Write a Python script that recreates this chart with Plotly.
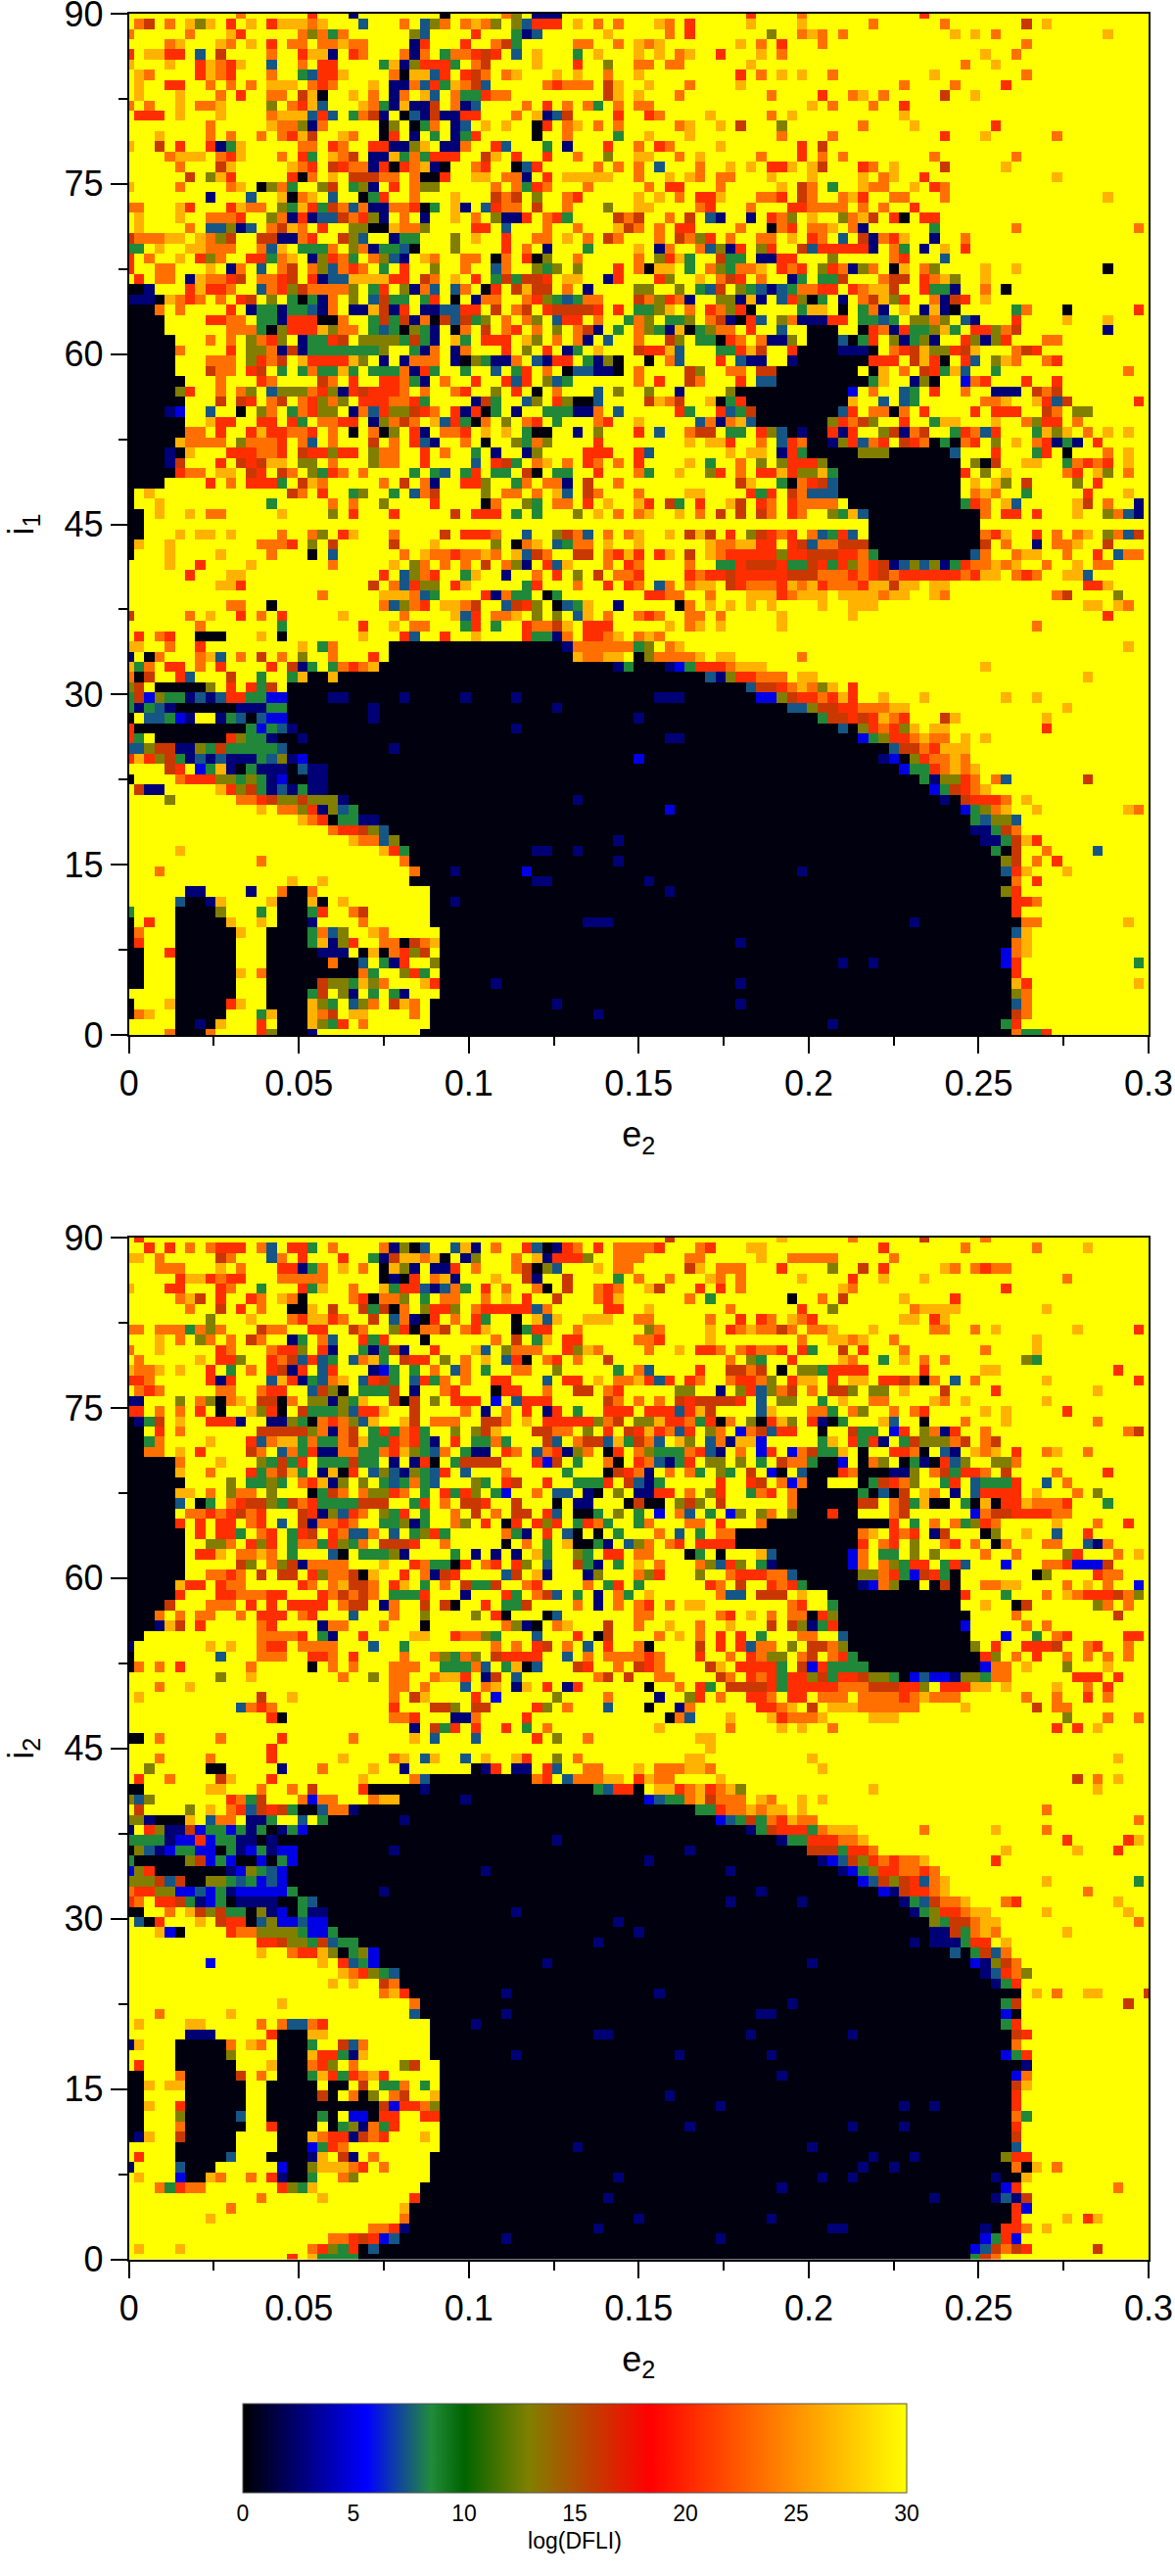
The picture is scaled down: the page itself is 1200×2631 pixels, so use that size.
import re
import plotly.graph_objects as go

# Values. Each row lists the cells that are not the yellow
# background: "<column>[-<column>]<level letter>", later entries overwrite earlier ones.
LEVELS = {"K": 0.3, "n": 2.6, "b": 5.0, "t": 7.4, "g": 8.6, "o": 13.0,
          "s": 16.0, "r": 20.5, "a": 23.5, "m": 26.5}
BACKGROUND = 30.0

P1_TL = [
"11a 18r 22n 31K 37a 38o 40-42n",
"1a 2s 4a 6m 7o 8m 10r 12m 14r 15-17m 18a 19m 23t 27a 29t 30o 31a 33a 34m 35a 36o 38o 39t 40-42r 44m 46a 48a",
"0a 6a 10m 11r 17a 18o 19a 20g 21a 28o 29t 34r 38g 39n 40t 47m",
"4a 5m 9m 10a 12m 14r 16a 17a 19a 20a 21m 22-23a 28n 29r 33r 36a 37s 38g 44-45a 48a",
"0r 2m 3m 4-5r 7t 9s 14a 17r 18m 19m 20n 22r 23a 27a 28n 29a 31g 32a 33a 34r 35s 36r 38t 40m 44g 46m",
"0m 4m 7r 8m 9a 10r 11m 14t 17a 19r 20r 25g 26m 27n 28o 29-31r 32g 34a 35s 40m 44r 47o",
"1m 2a 7r 8m 9a 10r 14a 17g 18t 19-20r 21m 26a 27K 28m 29m 30t 31r 33r 34s 35a 37a 38m 42m 44m 47a",
"1m 4r 5r 8a 10a 12a 14m 15m 16m 18a 19r 20a 24m 26-27n 28a 29t 30r 31g 32m 33a 34s 35t 41a 42r 43-45a 47s 48m",
"1m 5m 9a 11r 14a 15a 17s 18m 19K 22m 24a 26n 27a 29m 30t 32a 33g 34g 35r 36a 37a 47s 48m",
"0a 2a 5m 7a 8a 9m 14o 16a 17r 18m 19t 23m 24a 25g 26n 27m 28-29n 30s 32a 33n 34t 39a 41r 43a 45a 46g 48a",
"1-3r 5m 9m 14a 15-16m 17m 18t 19r 20t 22g 23a 24s 25n 27K 28t 29n 30s 31-32n 33-34r 38a 40m 41n 42t 43s 48r",
"8a 14m 15a 16a 17o 18n 19a 25K 26o 28K 29g 30a 32n 33t 35m 37m 40K 41r 43a 44m 46a 48a",
"3m 8a 10a 13a 15a 16r 17m 18s 21m 22a 25K 26r 28n 30g 32n 33g 34r 40K 43a 48g",
"0m 3s 5r 8r 9n 10g 11m 17a 18a 20r 21a 24r 25r 26-27n 28o 29m 31n 32n 33a 36r 37t 41g 43n 47r",
"4a 5m 6-7m 9a 10r 11m 15a 17r 18g 20m 21a 22s 24-25n 26m 27g 28a 29g 30-32r 35s 36m 38r 41r 44a 47o",
"5a 9s 10m 16m 17a 18r 20s 21r 22a 23a 24n 25r 26K 27r 28a 29m 30n 31K 34a 35r 38K 39t 40r 46a 48a",
"6s 8o 9m 10r 16r 17K 18a 20m 22s 23s 24s 25a 26a 28a 29K 30K 31r 34m 35m 37a 38a 39n 41r 43-47m",
"0m 5a 10a 11m 13K 14o 15a 16g 19o 20s 22g 23o 24n 26r 28a 29o 30o 36a 38a 39g 40r 41a 45a",
"8n 12t 15m 16K 17a 18m 20t 23K 24g 25r 28a 32m 36s 37a 38s 40o 43a 44r",
"0-1a 5m 6r 10r 11m 12-13a 15o 16g 17m 18r 19g 20s 21a 22t 23a 24n 25n 26-27a 28r 29K 30g 32m 33n 35t 36r 37a 38a 40s 43a 47o",
"1m 5m 8-10a 11r 14o 15a 16n 17r 18n 19-20t 21s 22a 23r 24o 25n 27a 29n 32m 34a 36o 37-38n 39r 41a 42r 43g 48s 49a",
"1m 6a 8-9t 10o 11n 12t 14a 15s 16m 17a 19r 22-23o 24-25K 26m 27-28a 29o 34-35r 37t 41a 44a 48m 49s",
"0s 1a 2a 3a 4-5m 7m 8a 9o 10s 13-14s 15-16n 17a 18r 21s 22o 23t 26n 27-28g 32o 34m 37r 40a 41a 43m 45a 47s 48a",
"0-1g 3m 6-7m 8a 9-10a 13a 14t 15m 17-19g 20a 22o 23a 24n 25-26g 27t 28K 32o 37r 39a 41n 45g",
"0r 2a 5m 7r 8o 9a 12-13r 14g 15a 16m 18n 19o 20r 21a 22g 24a 25o 26t 27n 29m 30a 33a 34a 36K 37a 39r 40K 41o 44a",
"0r 3-4a 8m 10n 11a 13t 15a 16s 18a 19o 20t 21a 22r 23a 25g 27r 30o 33a 36t 37a 40o 41g 42o 44o 48r",
"1r 3-4a 6n 7m 8-9a 10r 11s 13a 14a 15r 16s 18r 19n 20-21t 22-25m 26-27r 29s 30a 32m 34r 36g 37s 38g 39-40s 41r 43-44m 47n 48r",
"0-1K 2n 6r 7m 8-9r 10a 13t 14a 15r 16o 17s 18a 19-21a 22o 24g 25r 27o 28n 29a 30t 32t 33a 35K 36r 38s 39m 40s 41s 43a 45n",
"0-2n 3K 4m 5a 6r 7a 9a 11r 12s 14o 16g 17K 18g 19n 20a 22o 24t 25s 26-27g 29g 30r 32K 34n 35a 36a 39a 40r 41o 42g 43t 44g 45a 46a",
"0-2K 3a 5a 10r 12n 13-14g 15n 16-17g 18t 19n 20a 22n 23n 24m 25s 26n 27r 29-30n 31t 32t 33-34r 36s 38a 39s 41r 42s 43-45s 46r 48r",
"0-3K 8-9r 10a 11a 13-14g 15n 16-18r 19K 20K 21a 24g 25s 26g 27s 28n 29a 30K 31s 32t 33s 34g 35o 37a 39a 40o 42t 43r 44r 46a 49g",
"0-3K 10a 11a 12a 13g 14K 15o 16-18r 19m 20o 21-22a 24g 25t 26g 27K 28o 29g 30n 32K 33a 35s 37a 38r 40a 42o 44a 45s 46n 48g",
"0-4K 8a 10a 12o 13a 14r 15o 17n 18-19g 20r 21s 23-25o 26o 27g 28s 29g 30n 32m 33g 35-37r 39m 40o 42a 44a 45n 47t",
"0-4K 5a 10r 12-13o 14a 15n 16s 17n 18-24g 25o 28g 29n 30a 32n 33a 37r 39o 41r 43n 44g 46m",
"0-4K 8a 9-10a 12o 13r 14a 15s 17m 18-21r 22m 23o 25n 27n 28-30a 32n 33K 34o 35g 36-37n 38a 40t 41n 42-43r 45g 46n 47o 48K",
"0-4K 8s 9-10a 12r 13s 15g 17g 18a 19-20g 21m 22g 24-26g 27a 28n 29r 30g 33g 36t 38g 39r 41a 43K 44-45t 46-47n 48K",
"0-5K 9a 13r 14a 19s 20a 22r 25-26r 27a 28g 29n 31a 34r 37r 38t 39r 41o 42t 43g",
"0-4K 5o 6r 9a 11a 12o 14t 15-17o 18a 19r 20o 21n 22r 23s 24-26r 27a 29a 32a 33r 36o 38r 40K 42a 46t 48o",
"0-5K 9s 11s 12r 14a 15s 17a 18r 19o 20a 21o 23-25r 26-27a 28r 29g 34n 35s 36g 39t 40o 42r 43o 44-45K 46t",
"0-3K 4n 5b 8t 11K 13o 14a 16g 17a 18r 19-20o 22n 23a 24t 25r 26-27o 28s 29r 30a 32r 33n 34r 35K 36g 38n 41-43g 44-45n 46a 48t",
"0-5K 8m 9-10r 13-14r 16r 17g 19a 20a 21-22r 24n 25o 26a 27s 28a 30m 31t 32r 33g 34K 35a 37o 39a 40r 42g 46a 47r",
"0-5K 6-7a 9r 12r 13m 14r 15r 16-17a 18r 20a 22K 24a 25K 26o 28r 29n 31-32a 33r 35m 37m 39g 40-41K 44n 46o",
"0-4K 5m 6-8a 9a 11o 12-13a 14a 15r 17a 18t 20a 24s 26a 28r 29t 30n 33a 35K 38o 39g 40a 41o 46r",
"0-3K 4n 5K 6m 10-12r 13a 14a 15r 17s 18-19r 20o 21-22r 24o 25-26a 29r 31a 34g 36n 39n 40o 45-47r",
"0-3K 4n 5s 9r 11s 12r 13s 14m 15m 17o 18o 20a 24o 25-26a 29r 34t 36r 37s 38g 40a 41m 43a 45r 46a 48a",
"0-4K 5r 6a 7a 9m 10m 12s 13r 15s 16a 18o 19g 20r 21a 23a 28g 30g 31t 33g 34r 36-37g 39s 40K 42-43g 46r",
"0-3K 8r 10a 12-14r 15g 17s 18m 19a 25a 27s 29a 30n 33-34r 35o 38g 39a 41a 42a 43n 45s 48a",
"0K 2m 16s 17a 19r 22g 23o 26g 28t 29a 30s 35o 37-38a 40a 42m 43t 45s 46a",
"0K 3m 14g 20a 22a 25o 30r 35K 36a 39o 40g 42-43a 45r 47m",
"0-1K 3m 6m 8-9a 15m 20o 22r 26r 32s 34-36r 38g 40g 44o 46m 48a",
]
P1_TR = [
"11r 16a 28r",
"2m 3a 5r 11m 16m 23a 30a 38s 40m",
"3a 5r 13o 16a 17m 18a 20a 31m 33m 35a 46m",
"0m 1a 2m 10m 12a 14r 18a 38a",
"0m 2m 4a 5m 8r 12m 14a 34m 37a",
"0a 1a 3-4a 11m 32a 35m",
"0m 10r 12a 14m 16m 19a 29m 38a",
"1m 5a 10m 26a 31a 36r",
"0m 4a 13a 18r 21a 22m 24a 30s 33m",
"0-1a 17m 19a 23a 26r",
"1r 2a 7m 13a 15m 26m",
"4a 5m 8m 10s 14o 22a 27m 35r",
"1m 5m 14a 19a 30r 34m 41a",
"0a 2r 3a 8m 16r 18s",
"0-1m 4a 6m 12a 16r 18a 20a 29a 37a",
"0a 2t 6a 9m 11m 13-14r 15m 17m 18s 22r 23a 25m 30s 36m",
"0a 3m 5m 6a 8-9a 13m 17m 22m 24a 25m 28r 41m",
"1a 3-4r 8a 14m 16s 17a 19g 22m 23-24a 27m 29r 30a",
"0m 2m 4a 6-7r 8m 12-13a 14r 16s 17a 20a 21m 22r 25-26a 30a 46m",
"0m 1m 6a 7r 11a 15-16r 17-19a 20a 22a 24a 27r",
"0s 3a 5s 7t 8n 11n 13r 14a 15o 17m 20o 21a 22m 23s 25r 26K 28-29r",
"0a 2a 4-5r 10a 13K 14a 15r 17-18a 19m 21a 22n 29g 37a 49a",
"2a 4s 5a 6o 7r 9a 12-13a 15m 17r 18a 20t 22s 23n 24a 25r 26m 29n 32a",
"0m 2n 3a 6a 7t 8o 9n 10r 12o 13r 16s 17t 18-22r 23n 25a 26g 28n 30m 32r",
"0a 2o 3r 4m 5g 8s 9-10g 12n 13n 14-15r 19o 25a 26r 30t",
"0a 1K 2-3m 5g 7a 8o 9g 10a 11a 12m 14r 15a 16r 18o 19r 20a 21n 22o 23a 25K 26m 28a 29o 34m 37m 46K",
"2r 3o 6m 8a 9s 10r 12a 15n 16g 18-19g 20s 24a 25-26s 28r 29a 30m 31o 34m",
"0-1o 4o 6g 7t 8s 10o 11g 12t 13n 14t 15g 16-17a 18-19r 21r 22a 23-24m 25s 28r 29-30g 31n 34a 36K",
"0s 1a 2o 3r 4a 5n 8-9o 10n 11m 12n 14t 15r 16o 17K 18g 20n 22a 23s 24m 25o 26r 29a 30n 31s 32r 34m",
"0-1g 2o 3m 5a 7r 8a 9o 10r 11K 16g 17-18m 20K 22g 23a 24n 26m 28n 29m 30n 31K 37g 38a 42K 49r",
"0a 1o 3-4g 5o 7a 8s 9n 10K 11r 12t 14o 15a 16-18n 19-20r 22-23g 24t 25g 27-28o 29a 30o 32t 33n 37r 42m 46m",
"0a 1o 2g 3n 4m 5K 6g 7o 8a 9a 11r 14t 17-19K 22K 23r 24a 25n 26r 27-28g 29o 30m 31g 33-34r 35o 36a 37s 46n",
"0a 3s 4o 6-7g 8K 9r 10a 12a 13-14n 15o 17-19K 20t 21K 22g 23r 25o 26n 27g 28o 29n 32r 33o 34n 35o 36r 40-41a",
"0s 1-2r 3m 4t 8-9g 10r 11m 12s 15r 16-19K 20-22n 23K 25a 26r 27s 28m 29-30o 31r 32s 33m 37a 38s 39r",
"1K 3a 4t 8r 10t 11-12n 15n 16-22K 23-25r 27s 28m 29r 30K 32r 33t 35o 36m 37a 40a 41r",
"0a 5s 6o 9-10a 12-13s 14-21K 23K 24m 26a 28s 29r 30g 31m 32t 35g 48a",
"0a 2r 5s 6a 10r 12-13t 14-22K 23g 24m 27n 28o 29K 32b 33a 34r 38r 41r",
"1o 4n 9o 10-20K 21b 23a 26t 27g 29r 32a 35-37n 39s 40a 41s",
"1s 2m 3a 4s 7m 8K 9g 10r 11-20K 21m 24t 26t 27g 34-35a 36m 39m 40r 41t 42s 49r",
"4r 5g 8r 9t 10g 11s 12-19K 20t 21r 23a 24a 25K 26a 28r 33r 35-37r 40s 41a 43-44o",
"0m 6t 7a 8n 9a 10m 11t 12-18K 19o 20r 21a 22s 23o 26r 29g 30-31m 35m 38a 39o 40-41r 43a",
"0r 2t 5a 6-7s 9-10g 12r 13o 14t 15K 16n 17-18K 19r 20n 21r 24o 25s 26n 27a 28s 31g 32r 33a 34t 35r 39g 40m 41o 42m 44a 46m 48m",
"5m 7-8m 9r 12a 14t 15r 16a 17-18K 19n 20o 21r 22t 23a 24r 26s 27r 28a 29K 30g 31K 32a 33r 35o 37m 39a 40r 41n 42g 43n 45r",
"0r 1t 9m 11-12m 14n 15r 16g 17-21K 22-24o 25-30K 31t 35r 39g 40r 42K 46a 48m",
"0r 5m 7g 10a 12o 14o 15-17r 18o 19-31K 33o 34K 35s 38-39m 42g 43a 44r 45a 46r 48m",
"0a 1g 4m 7o 8r 10a 12-13r 14m 15r 16-17o 18m 19g 20-31K 32r 34o 36m 42a 43r 45m 46o 48a",
"10s 11m 14g 15K 16a 17r 18s 19t 20-31K 33m 35m 36o 38s 43o 45r",
"0a 5m 6m 11r 12g 13r 15s 16a 17-19t 20-31K 33a 34m 35a 38g 44r 48m",
"0m 1r 3s 4g 6r 9m 10s 12r 13a 15r 16a 17-19a 21-31K 32g 33r 34a 36m 37t 43m 44s 46a 49n",
"0a 1m 4m 6a 8s 10s 12s 13a 15r 16a 19o 20g 21m 22t 23-33K 34a 36-37r 39r 43m 46o 47a 48t 49n",
]
P1_BL = [
"0-1K",
"0-1K 5m 7-8m 10m 15a 18a 19o 21r 22m 26a 31s 33-35r 36a 39t 42o 43s 44a 45t 47a 49a",
"0K 1m 4m 13a 14-15a 16r 18o 20s 26s 30m 36o 38K 39a 40m 42t 43g 44a 45a 47m",
"0K 4m 9m 14a 18K 20t 27a 29m 30-31a 32r 33a 34a 35m 36a 38m 39t 40s 41a 44-45s 47a 48r 49m",
"4m 7r 12m 20a 26m 28o 29a 31a 33a 35s 37a 38o 39n 41r 42t 43m 47a 49r",
"6r 10-11m 25r 27t 28o 29a 30r 33g 34m 37n 40a 42r 44o 46s 48-49a",
"9m 10m 11r 24s 26a 27t 28r 29-30o 32r 33m 39g 40r 44a 47r 49r",
"19a 25-26m 27m 28a 29t 30g 35r 36n 37a 38-39g 41K 42g",
"10-11a 14K 25a 26t 27o 28a 29r 31-32m 33a 34s 37t 38s 39r 40o 42K 43t 44g 45m 48n",
"0s 6a 8m 11r 13a 15r 21m 27a 32m 33t 34r 36a 37a 38m 40o 42o 44t 45m 47a",
"7a 15g 23r 26m 28-29a 33g 34r 36g 39r 40-41a 42s 43m 45-47r",
"1r 3a 4r 7K 8-9K 13m 15K 23m 27r 28t 31r 34m 39r 40-41g 42n 43a 45-46r 47a 48m",
"0m 1m 4a 7r 17m 19g 20a 26-42K 43n 44-49a",
"0n 2K 3a 7a 8m 9t 11a 13s 15a 17o 20a 24r 26-43K 44m 45-46a 47-48m",
"0m 1g 2a 4-5r 7a 9r 14r 16s 17n 18g 20g 21a 22r 23a 24m 25-47K 48n 49g",
"0a 1K 2s 5r 6t 10s 13g 16g 17m 18-19K 20m 21-49K",
"0o 1s 3-7K 8o 10r 12r 13g 14s 16-49K",
"0g 1s 2b 3o 4-5g 6n 7t 8n 9t 10-11r 12g 13g 14-15b 16-49K 20-21n 27n 33n 38n",
"0g 1n 2g 3t 4n 5-10K 11-13n 14-15g 16-49K 24n 42n",
"0K 2-3t 4g 5b 6n 9n 10g 11t 12K 13t 14-15b 16-49K 24n",
"0r 1-11K 12g 13b 14g 15t 16-49K 16n 38n",
"0r 1g 3-9K 10r 11o 12-13g 14n 15-49K 17n",
"0-1t 2o 3-4s 5-6n 7o 8g 9s 10g 11-14g 15t 16-49K 26n",
"0r 1m 2r 3o 4s 5g 6n 7t 8n 9t 10-12n 13g 14t 15o 16n 17b 18-49K",
"4s 5r 7b 8g 9m 10n 11K 12g 13-15n 16K 17t 18-49K 18-19n",
"0K 5a 6-8r 9-10o 11g 12o 13g 14n 15b 16-17K 18-19n 20-49K",
"1s 2-3n 9m 10r 11o 12s 13g 14n 15t 16n 17g 18-19n 20-49K",
"4o 11-12a 13r 14s 15-16o 17s 18-20o 21n 22-49K 44n",
"13m 15a 16a 17o 18r 19n 20o 21t 22g 23-49K",
"17m 18a 19r 20K 21-22g 23-24n 25-49K",
"20a 21-22r 23s 24o 25t 26-49K",
"22m 23-24a 25t 26o 27-49K 48n",
"5m 25m 26r 27g 28-49K 40-41n 44n",
"13a 27a 28-49K 48n",
"3a 28a 29-49K 32n 39b",
"16m 19m 28-49K 40-41n",
"6-7n 12n 15a 16-17K 18a 30-49K",
"5t 6-7K 8n 9m 14m 15-17K 18m 19K 21m 30-49K 32n",
"0g 5-8K 9o 13g 15-17K 18g 19r 22a 23s 30-49K",
"0K 2r 5-9K 10m 13m 15-17K 18n 23a 30-49K 45-47n",
"0K 1a 5-10K 11m 14-17K 18g 19a 20t 21o 24m 25a 31-49K",
"0K 1r 5-10K 14-17K 18g 19m 20n 21o 22r 25a 26a 27K 28s 29a 30m 31-49K",
"0-1K 4r 5-10K 14-21K 19-21n 23K 24m 25K 26a 27r 28o 29s 31-49K",
"0-1K 5-10K 14-19K 20a 21-22K 23t 25g 26n 27r 30o 31-49K",
"0-1K 5-10K 11m 13a 14-22K 23a 24g 27o 28r 29g 31-49K",
"0-1K 5-10K 14-18K 19s 20-21o 22g 23m 24o 25a 29m 30r 31-49K 36n",
"5-10K 14-17K 18g 19s 21o 22n 24g 26g 27n 31-49K",
"0K 4m 5-9K 10r 11m 14-17K 18m 19o 20g 22t 23o 24a 26s 27m 28a 30-49K 42n",
"0K 1a 2m 5-9K 13g 14m 15-17K 18m 19a 20s 22m 23m 28a 30-49K 46n",
"5-7K 7n 8K 9m 13r 15-17K 18m 19o 20g 21r 23a 30-49K",
"4a 5-7K 8a 13r 14o 15-17K 18n 29-49K",
]
P1_BR = [
"23-33K",
"0m 3m 5s 6m 7s 9r 11o 12s 13r 14a 15r 17a 18t 19g 20r 21t 23-33K 34a 35r 36m 39r 41a 43a 44m 46o 47a 48t 49s",
"0m 7m 8a 9a 10m 11m 12-13r 15r 16s 17t 18-19a 20-22s 23-33K 34s 36a 39n 41-42a 43m 46s",
"0r 2r 3m 5s 7m 8a 9-13r 14o 15-16r 17-19s 20-21r 22a 23g 24-32K 33t 34a 37a 38-39m 42a 45r 47t 48a 49a",
"0a 5a 8-9g 10r 11s 12-13s 14r 15-16g 17s 18r 19g 20r 21o 22a 23r 24s 25n 26t 27o 28t 29o 30n 31g 32r 33a 34a 35m 36a 37m 40a 43m 45a 46a",
"0r 5r 6a 7r 8r 9s 10-14r 15-17s 18-19a 20a 21r 22a 23r 24s 25a 26-31r 32a 33r 34m 35m 37a 38r 39a 42m 43m 44t",
"0a 2t 3a 5a 6m 7m 9s 10r 11-12a 13a 14r 15m 16a 17m 18r 19a 20-21a 22r 23m 24m 25s 26-27m 29m 30m 44r 45r 46m",
"1-2r 3a 4a 7a 11m 12-13m 14r 15a 16-17m 18m 20m 21m 22-23m 24a 25m 26m 29m 30a 41a 42s 47o",
"4K 5a 7m 9m 11m 13m 18m 21-22m 23m 44m 45m 47m 48a",
"0a 1r 2a 5a 6a 8a 14m 21m 46r",
"3m 5a 6m 8m 14m 39a",
"0a 1m 2a",
"0g 1o 3a 4m 48m",
"0K 1o 2-5a 6m 8-9m 16a",
"0-2K 3n 4b 5g 6-8r 9a 10-12m 34m",
"0-6K 7t 8n 9o 10-11r 12-14a 16-17m 44m",
"0-10K 11t 12-13s 14r 15a 16m 17a 18o 19m 21r",
"0-11K 2-4n 12-13b 14o 15s 16-17r 18a 19r 20m 21r 24m 28m 36m 39m",
"0-14K 15-16t 17o 18-19s 20-21r 22-24a 25m 26m 42m",
"0-17K 0n 18g 19-20s 21r 22s 23r 24m 25a 26r 30s 31m 40m",
"0-19K 20t 21K 22o 23r 24a 25r 26o 27m 29-30m 40r",
"0-21K 3-4n 22b 23g 24o 25-26r 27a 28m 29-30a 32m 34m",
"0-24K 25t 26s 27s 28a 29r 30-32m",
"0-26K 0b 24n 25b 27o 28r 29a 30a 31m 32a",
"0-25K 26b 27-28g 29r 30a 31m 32a 33m",
"0-27K 28g 29n 30-31o 32r 33a 35a 36t 44s",
"0-28K 29b 30g 31s 32r 33a 34m",
"0-31K 30n 32s 33-34r 35r 36a 38m",
"0-31K 3b 32b 33g 34o 35a 36m 39m 48m 49a",
"0-32K 33g 34t 35-36o 37t",
"0-32K 33-34n 35g 36s 37a",
"0-33K 34-35n 36g 37s 38m 39r",
"0-34K 35g 36K 37s 40a 45t",
"0-35K 36o 37s 39a 41r",
"0-35K 16n 36t 37r 38m 42m",
"0-36K 1n 37a 39r",
"0-35K 3n 36o 37r",
"0-36K 37-38r 39a",
"0-36K 37r",
"0-37K 27n 38-39a 48m",
"0-36K 37t 38m",
"0-36K 10n 37a 38m",
"0-35K 36b 37a 38m",
"0-35K 20n 23n 36b 37r 49g",
"0-36K 37r",
"0-36K 10n 37m 38r 49m",
"0-36K 37o 38a",
"0-36K 10n 37t 38a",
"0-36K 37s 38a",
"0-35K 19n 36g 37r",
"0-36K 37a 38-39g 40r",
]
P2_TL = [
"1r",
"2r 4r 6a 8a 9-10r 11r 13a 14t 16-17r 18g 20a 25a 26n 27o 28K 29t 32t 33m 34n 36a 39r 40t 41K 42n 43r 44a 46r 48a 49a",
"0-1m 3a 9s 10a 14t 15a 17r 21r 24g 25n 26s 27-28m 29a 30m 31K 33n 34o 38a 40m 41n 42r 43-44r 45o 48-49a",
"3a 4-5a 9m 11a 15-16r 17n 18g 19a 21m 23a 25K 26m 27o 28n 30-31n 32r 34a 38a 39s 40K 41o 42t 46m 48a 49a",
"5r 6-7m 8r 9a 10-11r 15-18a 19a 25K 26n 27K 28r 30a 31m 32n 36m 39s 40n 43s 48g",
"0m 4-5r 9r 10a 13g 17r 18g 19m 22a 25m 26g 27-28r 29t 30n 31t 32a 33g 35r 37a 40a 41K 43s 46a 47r 48a",
"5a 6m 7s 9r 12r 13a 15m 16a 17K 22a 23r 24K 25-26a 27o 29g 31a 32a 35a 37m 39r 42s 46a 47r 48m",
"6a 9s 11r 13a 16-17K 18m 20s 23s 24g 25s 26K 27a 29o 30r 31r 32o 34a 35-39r 40t 41a 47-48r",
"8o 12m 16a 17r 18m 19m 20r 21a 24s 26t 27a 28n 29K 30r 32a 34r 35g 38K 40m 41t 42m 45-47m",
"0-1a 3-5a 6g 7a 8o 9a 13s 14-15a 18r 19r 22s 23a 26o 27r 28K 29a 30a 31s 33a 34r 35m 38K 39g 40-41r 44a",
"3m 5a 7o 8a 10a 12s 13a 16n 17g 19a 20t 23r 24g 25r 29K 36a 38s 40g 41m 43r 44r",
"0a 3m 9r 10a 14a 15-16r 17o 19r 20n 23g 24n 25g 26s 27n 30r 34m 35t 37o 38-39a 40a 43r 44o 45m 46a",
"1a 7m 9-10r 11o 14r 15a 16s 17t 18r 19t 20g 22t 23a 24m 25g 27s 28-29r 31o 33a 35m 37t 38r 39K 41a 42r 44a 47s",
"0m 1-2a 3m 5m 8r 10g 12a 14r 15s 16n 17r 19t 20r 24n 25b 26g 28g 30a 32t 33a 35g 38a 39a 42o 48g",
"0-1r 2a 8r 9n 10r 14t 15m 16r 17n 18g 19t 20a 21m 23t 24r 25s 26g 28t 29r 30g 31a 33a 36-37r 41t 43-44r 46m 48-49a",
"1a 2r 3a 9-10a 13a 14-15r 18t 19s 20o 21K 23g 24-25g 26s 28n 31a 32r 36K 37-38r 41a 44-45s 47a 48r",
"0-1n 5o 7a 8o 9K 10a 11m 13-14s 15K 16a 18-19o 20n 21o 22g 23m 26s 27K 28s 30o 32r 33-34r 36b 38t 39-41r 47s 48a",
"0-1r 3a 5a 7r 9K 12m 13o 14r 15K 17s 18-20g 21o 22t 23-24r 25m 28s 33a 35n 37a 39r 41n 42r 44g 47-49r",
"0K 1n 2g 3s 5m 8-10r 11n 14-15n 16o 17g 18K 19a 20r 21a 22o 23t 24m 27m 28s 30-32a 35-36s 37a 39m 41-45r 46o 47a 48s",
"0-1K 3r 5a 13-17s 18o 19a 20n 21a 22s 24g 25r 26g 27a 28r 29g 32o 34o 35s 36m 40-41s 42a 43a 45o 47r 49s",
"0-1K 2g 3a 8m 12r 13t 14a 15-16m 17g 18a 19-20g 21a 22s 23m 24-25g 26r 27a 28r 29g 30n 32r 34-35g 36a 37g 41s 42t 44a 45-46s 47t 48m 49g",
"0-1K 2-3a 5m 7r 12s 13a 15t 16a 17g 18r 19-20n 21a 22a 23-24g 25a 26r 27m 28o 29g 30t 31a 33g 34-35n 37r 38a 40t 41a 42r 43n 44o 45a 47K 48r",
"0-4K 5a 9m 13o 14g 15s 16g 17r 19-21g 22s 23-24g 26n 28n 29r 30K 32g 33-36s 40r 41b 42s 44g 47a 48K",
"0-4K 5m 8a 12r 13g 14a 15s 16m 17g 19n 20m 21K 22r 24t 25o 26t 27n 28o 29g 30t 31r 33t 37a 43g 47K 48s 49r",
"0-5K 10o 12-13g 14o 15g 17a 18r 19m 20n 21o 23o 25g 26t 27g 28a 29g 30t 34o 35g 37r 38s 41r 44-46g 47r 49s",
"0-4K 5-6m 8a 10o 11-12a 14o 18K 19g 20s 21a 23a 24-25o 26r 27a 29g 31r 32g 33r 34o 36g 37b 40a 42-43t 45n 46K 48o",
"0-4K 5t 7K 8g 10a 11r 12-13s 14o 15g 16s 17a 18r 19g 20-22g 23-25s 28g 29r 31a 33-34s 35r 38s 42K 44-45n 49K",
"0-4K 6-7a 8r 9a 10r 11s 12a 13r 17s 18r 19n 20o 21t 22r 23a 25o 26g 27r 29g 32a 34s 36a 38-39s 41r 42t 44-45K 46g 48o",
"0-4K 5r 7r 9-10r 12a 13r 15t 17s 18n 19-20a 21r 22a 25-26g 27o 28n 29g 32a 33o 35r 37K 38r 40r 41o 42r 44g 45r 46a 47g",
"0-5K 7r 9-10r 11g 13a 14r 16g 17r 18s 20r 21a 22-23t 24a 26t 28g 29o 30r 31g 37a 38g 39n 41r 43t 44K 46K 48g",
"0-5K 8-9o 10a 12r 13o 14r 16g 17a 18a 19g 20r 21o 22g 23a 25-27s 28r 31a 37K 39a 41g 43m 44-45K 46g 47n 49t",
"0-5K 7-8r 9m 11a 12a 13m 14a 16g 20t 21K 23-25g 26o 27n 32g 34n 36n 38n 40m 41g 44o 45g 47-48r",
"0-5K 11s 12o 14a 15o 16s 17n 18-20a 21a 25m 28r 29a 30-31g 32K 33r 35a 36r 38r 39o 41t 44s 45g 46n 48g",
"0-5K 8a 9a 10r 11a 13s 15-16s 18r 19o 20-21a 22s 23K 24m 27r 29a 30n 31s 32r 37t 38s 40m 41n 45n 46o",
"0-4K 5m 6-7r 9r 10a 11a 17r 18a 20a 21m 22-23s 24a 26r 27m 29g 31a 33s 34-35g 36s 39a 40r 45a 47g 48r",
"0-4K 5r 9-10r 11-13a 14r 15r 19r 20a 21s 22a 23s 24a 26g 27-28g 29r 33n 37r 38g 40a 41s 42t 44g 46n 48a 49g",
"0-3K 4s 8-10a 12r 14r 16-19r 21a 22s 23s 25n 26a 29s 31s 32K 35r 37-38g 39s 44a 46n 48a",
"0-2K 3a 5a 7-8a 11a 13-15r 17a 18r 22t 26a 29o 34o 36r 37K 41K 42t",
"0-2K 3n 4m 5s 7r 13a 14r 19n 20-21a 25a 29K 37a 38o 39n 40K 42a 43m 47s",
"0-1K 13-16a 17r 19g 20n 23r 28-29m 32r 33-34a 35o 36g 40t 44r 46K 47s",
"0n 8m 10m 13a 14-15r 17a 18-20a 24t 27g 36a 38a 40r 41s 43a 45t 47r",
"0K 9t 13-14a 15a 18-19r 20a 22r 27a 30a 31o 32g 33a 34o 36s 37-40r 43t 45a 47-49a",
"0K 1a 3a 5r 12a 18K 20a 22a 26-28a 31-33g 34a 35t 37g 38m 39K 40t 44s 45r 48a",
"9o 12m 21a 24o 26-27a 30a 31m 32m 33r 35n 36s 38t 46a 47s 49s",
"3a 6m 26-27a 29a 33t 35a 36m 38n 39m 41r 43n 44r",
"1m 13s 16m 26a 28s 29m 34r 36b 42o 47a",
"11t 12a 13r 14a 26r 30-31s 32o 34-35s 40r 41o 43a 47t",
"14r 15K 26a 27a 28r 32-33n 34a 39r",
"28n 30s 31g 32r 34r 37r 39g 41a",
"0-1K 3a 9a 15r 22a 28m 30t 34t 40r 42o 45a",
]
P2_TR = [
"3s 14m 21a 28s 34a",
"0-1a 2r 6a 7r 11m 12m 24r 32a 39a 44m",
"0a 5-6a 12m 15-19a 25a",
"5s 6m 8a 9-10a 14r 19o 22s 24r 30m 31a 33a 34r 35-36a",
"0a 3a 7m 8a 10a 16m 21r 24m 28m 42a",
"1m 2s 6r 8r 10a 20m 21a 36r",
"5a 7g 15K 18a 20s 26m 31r",
"1m 9a 16r 19o 27a 28m 29-30m 31m 40m",
"0a 1a 7a 10r 12r 13a 15m 16a 17r 26-27m 29r 30m",
"1o 2a 7m 9r 10a 11m 12a 13a 14s 15a 17-18a 19m 23m 29-30a 33a 35m 43m 49r",
"0-1a 2r 7m 16a 19-20m 21a 22m 25a 39m",
"1a 4m 6-7r 8a 10a 11r 12a 13a 14r 16r 17g 20s 22r 26a 34a 39m",
"9a 11o 12g 15r 20m 21a 24g 26m 28a 30a 38o 39g",
"0a 1t 6r 9-10s 11a 12s 14K 16-17o 18g 19-22r 28r 34-35m 47r",
"0m 1r 2t 3r 5r 6a 9a 10-11r 12a 13o 15r 16-17m 19r 21-22m 24-25r 26s 27a 28K 29a 31t 33a 40m 49r",
"4-5o 8n 10o 11r 12t 13o 14a 15s 17a 19-20s 21o 23-24o 26m 30s 35r 45m",
"0a 2a 4s 5r 6-9s 10r 12t 14-15o 18g 20m 23-24a 29m 30a 32m 40m",
"1-3r 4t 5r 6m 7s 12t 13m 17a 18a 19g 21a 22o 25a 27a 28r 34m 36m 42r",
"0-1o 2m 3-4r 5a 6g 7r 8K 9a 11o 12K 13r 14m 15o 17r 18n 19K 20g 24m 25t 28K 32a 36m 45a",
"0r 1m 2r 3a 4t 5r 7o 8a 10b 11a 12s 13t 14-15r 18K 21s 22-23g 25b 26r 28o 29a 30n 31r 34a 48a 49s",
"0s 1a 2t 4m 5o 7t 8a 9n 10m 11m 12b 18g 19m 21r 22g 23r 24n 26g 27s 28-30o 31a 32s 34a 35s",
"0a 1o 2-4g 5a 6r 7t 8n 10a 12b 13r 15b 16a 17s 18-19g 20m 22K 25r 26r 27a 28K 30t 31n 33m 34a 35m 37r 40a 41m 44a",
"0r 1a 2t 3n 4g 5r 7-8o 10o 12g 14s 15-16a 17g 18-19K 20b 22K 23a 24o 26K 27g 28n 29K 30r 31t 32o 35-36o 37a",
"0a 1n 3a 5a 6g 8o 9g 11s 13b 14K 16t 17-19K 20r 21a 22-24K 25n 26n 27o 29a 30s 31g 32-33r 34a 36s 41a 46r",
"0t 1n 2g 8r 11r 12s 14a 15b 16a 17-18K 22K 23g 24s 25r 26a 27o 30g 31r 33t 34-36g 37r 40t 42a",
"0-1n 2-3r 5a 7o 8r 11g 12a 13r 15a 16-21K 22g 23K 24t 25K 26s 28m 29a 31n 33t 34-37r 39m 43a 45o",
"0s 1-2K 4o 5s 6o 8s 15a 16-21K 22-23s 25a 26s 27g 28m 29-30K 32g 33K 34m 35K 36-37r 38m 39a 40a 41a 42r 46g",
"0g 2b 4a 5t 7g 9b 10o 12o 13a 15o 16-18K 19r 20-21K 25a 26s 33b 34a 35-36s 37-40r 41a 42a",
"0g 1a 5-6a 8r 12a 13-24K 25r 27g 29a 31a 32g 33o 34r 35a 41m 45a 48r",
"2a 4t 6g 8-9a 10-21K 22a 23m 25r 26a 27r 29n 30s 34K 35o 38m 41t 44r",
"0o 1a 3a 4r 6-9r 10-21K 22r 24a 25r 27o 30a 31r 33a 35K 36a 40-41a 44t 45n 46a",
"0a 1a 5K 6g 8K 12m 13t 14-21K 21b 22a 24g 25g 27o 29o 34a 37a 42o 43r 47a 49m",
"0m 2a 6a 7o 8t 9r 10o 12g 13n 14-20K 21b 22a 24a 25o 26g 27r 28r 30g 31r 32t 36b 40-41a 42r 43-45b 46s",
"0a 1o 2r 6o 9a 10r 11-12r 13-14a 15t 16-21K 22-23o 24a 25r 26g 27b 28s 29r 30g 31K 39K 40o 45r 46-47a",
"0g 7r 8a 10s 13r 14a 15r 16g 17-21K 22n 23b 24a 25o 26-27K 29K 30s 31K 34a 35a 36-37m 42a 44m 46a 49b",
"1m 8a 9-10t 12-14s 16m 19-31K 32r 36g 40a 42m 43a 44-46r 47s 48a 49o",
"0a 1r 3a 5-6m 15a 16r 19g 20-31K 34m 37K 38s 45o 46a 48a",
"0-1a 8a 9r 11m 13a 15a 16a 17K 18r 19o 20-32K 37a 47s",
"0a 3m 6a 9m 13s 15s 16o 17n 18g 19r 20-31K 32b 38a 40a",
"2a 4m 6a 8r 10r 12g 16-17a 20t 21-32K 36b 39g 41a 42r 48-49r",
"0a 1K 6s 8r 10r 11t 12a 13a 15o 17-18s 19a 20o 21-32K 33o 35r 38-40r 41s 44a 45r 48a",
"0a 1r 2a 6r 9a 11r 12a 13-14o 16a 17s 19a 20r 21g 22-33K 34r 35o 37a 39r 42a 44a 46a 48a",
"0s 1r 2a 7s 8m 10-13r 14g 16s 17b 18r 19g 20-22g 23-33K 34b 35-36a 38m 42o 46m",
"2-3a 8s 9a 11r 12a 13r 14g 15-16r 17o 18s 19g 20-21r 22s 23-24o 25g 26K 27b 28t 29-30b 31n 32-33o 34g 35-36a 43r 44-45r 47r",
"1K 4a 6r 7g 9-12s 13r 14g 15-19r 20-22a 23-25s 26-27r 28o 30-32r 33m 34m 36m 41m 44a 46r",
"2n 5o 6r 8a 11-12r 13a 15-16r 18-20a 22-25a 26r 27a 28m 29a 30-31a 38a 41a 44r 46a",
"1K 4n 5a 12-13r 14a 15m 17s 19-21m 22-27a 32m 39s 41-42a",
"3K 4a 5t 9m 13m 14r 15-17a 18m 23-25m 42o 46a 49a",
"2m 9a 14m 16m 19a 41r 43r 45m",
"6-7m",
]
P2_BL = [
"14r",
"3a 8a 14r 21m 26a 27m 29t 30m 33t 35m 38m 39r 42o 44a",
"2o 8-9K 15n 19a 24m 27n 34K 35n 36r 38-39n 41r 42t 45-46a",
"1r 4a 9s 10m 14r 23m 28a 29t 30-39K 40a 41r 43t 44-46a 47-48m",
"0-1K 8-9m 13a 16a 18s 23r 24-49K 29n 46g 47t 48-49r",
"0o 1t 2o 10r 11a 12g 13s 17a 18b 19a 20a 24a 25m 26m 27-49K 33n",
"1s 6o 8m 10a 11r 12t 13s 14r 15s 16g 17-18K 19t 20-21a 22n 23-49K",
"0-1o 2n 3-5K 6m 8t 9-10a 12-13n 14g 17t 19g 20-49K 27n",
"0n 2r 3o 4-5n 6s 7b 8-9g 10b 11g 12n 13g 14K 15n 16g 17b 18-49K",
"0-3g 4n 5-6b 7r 8b 9-10g 11-12n 13K 14n 15-49K 42n",
"0K 1o 2t 3n 4b 5-6g 7-8b 9K 10g 11n 12b 13g 14n 15-16b 17-49K 26n",
"0g 1-5K 6o 7s 8b 9g 10b 11-12K 13b 14K 15g 16b 17-49K",
"0b 1o 2r 3-9K 10n 11b 12o 13g 14t 15b 16-49K 35n",
"0-2o 3s 4t 5s 6-7K 8-9o 10g 11t 12g 13b 14t 15b 16-49K",
"0a 1-2r 3-4o 5-6b 7t 8b 9g 10n 11-15b 16g 17-49K 25n",
"0r 1a 3-4r 5s 6g 7n 8b 9g 10K 11-14n 15-16K 17g 18t 19-49K",
"0-1K 4a 6m 7s 8o 9s 10-11g 12K 13o 14n 15b 16K 17g 18-19n 20-49K 38n",
"1t 2K 3r 7m 9s 10-11r 12K 13t 14o 15-16b 17t 18-19b 20-49K 48n",
"3m 4b 5K 10r 11a 12a 13-16o 17g 18-19b 20g 21-49K",
"13-14r 15s 16-17o 18g 19s 20t 21-22g 23-49K 46n",
"13m 16a 17-18r 19m 20o 21K 22g 23o 24b 25-49K",
"8b 19m 21r 22t 23g 24b 25-49K 41n",
"21m 22a 23r 24o 25g 26t 27-49K",
"20m 22m 25s 26a 27K 28-49K",
"25a 26m 27r 28-49K 37n",
"15m 28a 29-49K",
"3a 10m 28t 29-49K 37n",
"1m 6-7m 13a 15a 16-17t 18a 19r 30-49K 34n",
"6-8n 14r 15-17K 18-19m 30-49K 46-47n",
"0n 1m 5-9K 10a 12m 13a 15-17K 18g 21s 22t 23a 30-49K",
"5-9K 10o 15-17K 18m 19-20r 21g 22n 23m 30-49K 38n",
"1r 5-10K 14m 15-17K 18a 19r 20o 22a 27o 28s 31-49K",
"0-1K 5a 6-10K 11s 13a 15-17K 18g 19m 20r 21g 22r 23a 24m 25r 31-49K",
"0-1K 2m 4-5m 6-11K 14-18K 20-21K 23s 25-26g 27a 29g 31-49K",
"0-1K 6-11K 14-18K 19s 20K 22a 23K 24o 26a 27s 30m 31-49K",
"0-1K 2m 5r 6-11K 14-24K 25s 26b 27-28r 29a 30o 31-49K",
"0-1K 5o 6-10K 11t 14-18K 19g 20K 22b 23b 24K 25-26r 29r 30r 31-49K",
"0-1K 5a 6-11K 14r 15-18K 20K 21g 22o 23n 24a 25g 26r 31-49K",
"0K 1n 2m 5s 6-10K 15-17K 18m 19a 20-21r 22n 23s 24a 25r 29m 31-49K",
"5-10K 15-17K 18b 19g 20r 21a 31-49K 44n",
"1r 5-9K 10t 14K 15-17K 18n 19m 21s 22n 24a 30-49K",
"0n 5t 6-8K 15b 16-17K 18o 19-21m 22a 23r 25a 30-49K",
"1m 5b 6-7K 8m 9a 12a 14r 15n 16-17K 18g 21a 22o 30-49K 48n",
"3a 4g 5r 6-7a 15r 16o 17g 18m 29-49K",
"13a 19m 28r 29-49K 47n",
"10a 27m 28-49K",
"8m 27a 28-49K",
"24-25a 26r 27n 28-49K 46n",
"20-21a 22r 23s 24r 25b 26t 27-49K 37n",
"1m 5m 18a 19r 20o 21g 22r 23K 24t 25-49K",
"16r 18m 19-22g 23-49K",
]
P2_BR = [
"7m",
"5-6m 17m 47m",
"0m 2a 3-4a 5m 6m 7a 18m",
"0r 1m 2-3a 8m 43s 45a 47m",
"0K 2-3m 4r 5a 6m 7r 8a 9m 10o 23m 45m",
"0K 1b 2t 3-4g 5a 6m 7s 8-9a 10a 12m 13a 16m 18m",
"0-5K 6-7g 8r 9a 10a 11m 12a 13m 14m 16m 40a",
"0-7K 8b 9t 10g 11s 12g 13a 14r 15m 16a 17a 49a",
"0-10K 11n 12g 13s 14r 15-16r 17g 18a 19-20m 21m 28a 35m 40a",
"0-13K 14n 15-16g 17-18r 19r 20-21a 22m 42r 48r 49m",
"0-16K 5n 17s 18-19s 20g 21-22r 23a 36m 43m 47r",
"0-17K 1n 18n 19b 20t 21s 22o 23r 24a 25r 26a 27a 28m 35r",
"0-19K 9n 20n 21b 22g 23o 24-25r 26a 27a 28r 29a",
"0-21K 22b 23t 24s 25o 26s 27r 28t 29a 30m 40m 49g",
"0-23K 12n 24b 25n 26s 27r 28r 29a 30m 44a",
"0-25K 9n 16n 26n 27g 28t 29s 30-31a 32m 36a 37r 47m",
"0-26K 27n 28g 29o 30r 31r 32a 33m 34m 40m 48m",
"0-28K 29o 30g 31s 32s 33a 34m 35m 49a",
"0-28K 0n 29-30n 31s 32g 33a 34m 35a 42m",
"0-28K 27n 29-31n 32g 33-34r 36m",
"0-30K 31t 32K 33g 34s 35t 36a",
"0-32K 17n 33b 34n 35o 36s 37a",
"0-33K 34n 35t 36r 37a 38o",
"0-34K 35n 36g 37r",
"0-37K 2n 39m 41a 44m 45m 50s",
"0-35K 15n 36g 37s 48s",
"0-35K 12-13n 36b 37K",
"0-35K 36g 37r",
"0-36K 11n 21n 37s 38r",
"0-36K 37a",
"0-35K 4n 13n 36b 37g 38r",
"0-37K 38n",
"0-36K 14n 37b 38a",
"0-36K 37s 38m",
"0-36K 3n 37r",
"0-36K 8n 26n 29n 37r",
"0-36K 37a 38g",
"0-36K 5n 21n 26n 37r",
"0-36K 37s",
"0-36K 17n 37t",
"0-35K 23n 27n 36o 37-38r",
"0-36K 22n 25n 37a 38K 39m 41a",
"0-37K 18n 21n 35n 38m",
"0-35K 14n 36b 37r 47a",
"0-34K 29n 35n 36t 37n 38s",
"0-36K 37r 38b",
"0-36K 0n 13n 37r 42m 44r 45m",
"0-33K 19-20n 34n 35K 36-37r 38a 40m",
"0-33K 8n 34b 35g 36r 37b",
"0-32K 33b 34t 35s 36a 37s 38r 45s",
"0-32K 33g 34s 35a",
]

COLS_X = [i * 0.003 for i in range(101)]
ROWS_Y = [90 - i * 0.9 for i in range(101)]
X_TICKS = [0, 0.05, 0.1, 0.15, 0.2, 0.25, 0.3]
X_LABELS = ["0", "0.05", "0.1", "0.15", "0.2", "0.25", "0.3"]
Y_TICKS = [0, 15, 30, 45, 60, 75, 90]
CBAR_TICKS = [0, 5, 10, 15, 20, 25, 30]
COLOR_STOPS = [(0, "#000000"), (5.6, "#0000ff"), (8.5, "#228b3c"), (10, "#006400"),
               (12.9, "#808000"), (18.4, "#ff0000"), (30, "#ffff00")]

TOKEN = re.compile(r"(\d+)(?:-(\d+))?([A-Za-z])")


def paint(spec, width):
    row = [BACKGROUND] * width
    for a, b, letter in TOKEN.findall(spec):
        lo, hi = int(a), int(b) if b else int(a)
        for c in range(lo, min(hi, width - 1) + 1):
            row[c] = LEVELS[letter]
    return row


def grid(left, right):
    return [paint(left[i] if i < len(left) else "", 50) +
            paint(right[i] if i < len(right) else "", 51) for i in range(101)]


Z1 = grid(P1_TL + P1_BL, P1_TR + P1_BR)
Z2 = grid(P2_TL + P2_BL, P2_TR + P2_BR)

W, H = 1200, 2631
L, R = 131.7, 1173.0
colorscale = [[v / 30, c] for v, c in COLOR_STOPS]
fig = go.Figure()
fig.add_trace(go.Heatmap(z=Z1, x=COLS_X, y=ROWS_Y, xaxis="x", yaxis="y", zmin=0, zmax=30,
                         colorscale=colorscale, showscale=False, zsmooth=False))
fig.add_trace(go.Heatmap(
    z=Z2, x=COLS_X, y=ROWS_Y, xaxis="x2", yaxis="y2", zmin=0, zmax=30, colorscale=colorscale,
    zsmooth=False, showscale=True,
    colorbar=dict(orientation="h", lenmode="pixels", len=678, thicknessmode="pixels", thickness=91,
                  x=587 / W, xanchor="center", y=1 - 2455 / H, yanchor="top", xpad=0, ypad=0,
                  outlinecolor="#555555", outlinewidth=1, ticks="", tickvals=CBAR_TICKS,
                  tickfont=dict(size=23, color="black", family="Liberation Sans"),
                  title=dict(text="log(DFLI)", side="bottom",
                             font=dict(size=23, color="black", family="Liberation Sans")))))

tick = dict(family="Liberation Sans", size=36, color="black")


def xaxis(anchor):
    return dict(domain=[L / W, R / W], range=[0, 0.3], tickvals=X_TICKS, ticktext=X_LABELS,
                ticks="outside", ticklen=17, tickwidth=2, tickcolor="black", tickfont=tick,
                showline=True, linecolor="black", linewidth=2, mirror=True, showgrid=False,
                zeroline=False, anchor=anchor, automargin=False,
                minor=dict(tickvals=[0.025, 0.075, 0.125, 0.175, 0.225, 0.275], ticks="outside",
                           ticklen=9, tickwidth=2, tickcolor="black", showgrid=False),
                title=dict(text="e<sub>2</sub>", font=tick, standoff=20))


def yaxis(anchor, top, bottom, label):
    return dict(domain=[1 - bottom / H, 1 - top / H], range=[0, 90], tickvals=Y_TICKS,
                ticks="outside", ticklen=17, tickwidth=2, tickcolor="black", tickfont=tick,
                showline=True, linecolor="black", linewidth=2, mirror=True, showgrid=False,
                zeroline=False, anchor=anchor, automargin=False, ticklabeloverflow="allow",
                minor=dict(tickvals=[7.5, 22.5, 37.5, 52.5, 67.5, 82.5], ticks="outside",
                           ticklen=9, tickwidth=2, tickcolor="black", showgrid=False),
                title=dict(text=label, font=tick, standoff=20))


fig.update_layout(width=W, height=H, autosize=False,
                  margin=dict(l=0, r=0, t=0, b=0, autoexpand=False),
                  paper_bgcolor="white", plot_bgcolor="white", showlegend=False,
                  font=dict(family="Liberation Sans", color="black"),
                  xaxis=xaxis("y"), yaxis=yaxis("x", 14, 1057, "i<sub>1</sub>"),
                  xaxis2=xaxis("y2"), yaxis2=yaxis("x2", 1264, 2307.5, "i<sub>2</sub>"))

fig.write_html("out.html", config={"displayModeBar": False},
               post_script="document.body.style.margin='0';")
